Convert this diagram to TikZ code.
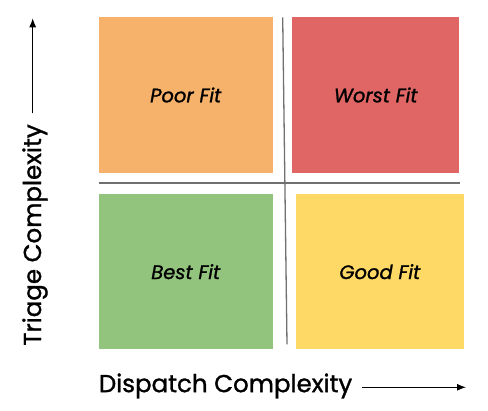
\documentclass[tikz,border=0pt]{standalone}
\usepackage{fontspec}
\setmainfont{Poppins}
\newfontfamily\pmed{Poppins}[FakeBold=1.2]
\usetikzlibrary{arrows.meta}
\definecolor{poorc}{HTML}{F6B26B}
\definecolor{worstc}{HTML}{E06666}
\definecolor{bestc}{HTML}{93C47D}
\definecolor{goodc}{HTML}{FFD966}
\definecolor{linec}{HTML}{707070}
\tikzset{
  quad/.style={inner sep=0pt, outer sep=0pt, font=\pmed\fontsize{19.5}{23}\selectfont\itshape, text=black},
  divider/.style={draw=linec, line width=1.3pt},
  axisarrow/.style={draw=black, line width=1pt, -{Latex[length=9pt,width=7pt]}},
  axislabel/.style={font=\pmed\fontsize{24.5}{28}\selectfont, text=black, inner sep=0pt}
}
\begin{document}
\begin{tikzpicture}[x=1pt,y=-1pt]
\useasboundingbox (0,0) rectangle (488,411);
\fill[poorc]  (98.7,17.3) rectangle (272.7,172.7);
\fill[worstc] (292,17.3) rectangle (459.3,172.7);
\fill[bestc]  (98.7,194) rectangle (272.7,349.3);
\fill[goodc]  (296,194) rectangle (463.7,349.3);
\node[quad] (poor)  at (185.7,95) {Poor Fit};
\node[quad] (worst) at (375.7,95) {Worst Fit};
\node[quad] (best)  at (185.7,271.7) {Best Fit};
\node[quad] (good)  at (379.8,271.7) {Good Fit};
\coordinate (hl) at (98.7,183);
\coordinate (hr) at (460,183);
\coordinate (vt) at (282.7,17.3);
\coordinate (vb) at (287,344.3);
\draw[divider] (hl) -- (hr);
\draw[divider] (vt) -- (vb);
\node[axislabel, rotate=90] (tri) at (35,235) {Triage Complexity};
\coordinate (ta) at (32.7,113.3);
\coordinate (tb) at (32.7,18.3);
\draw[axisarrow] (ta) -- (tb);
\node[axislabel, anchor=west] (dis) at (98.7,386) {Dispatch Complexity};
\coordinate (da) at (362.3,387.3);
\coordinate (db) at (466,387.3);
\draw[axisarrow] (da) -- (db);
\end{tikzpicture}
\end{document}
